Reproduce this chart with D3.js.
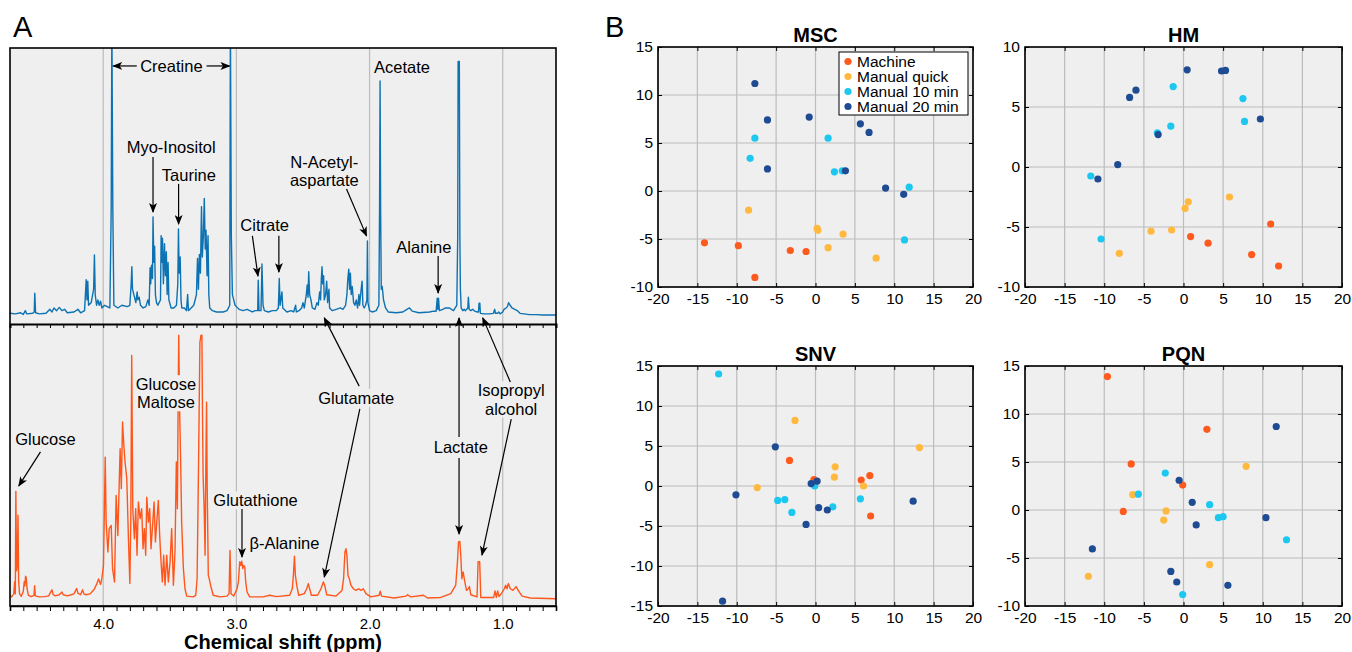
<!DOCTYPE html>
<html>
<head>
<meta charset="utf-8">
<title>NMR spectra and PCA scores</title>
<script src="https://d3js.org/d3.v7.min.js"></script>
<style>
  body { margin: 0; background: #fff; }
  text { font-family: "Liberation Sans", Arial, Helvetica, sans-serif; fill: #000; }
</style>
</head>
<body>
<div id="chart"></div>
<script>

// ---------- data: spectra, digitized as [ppm, relative intensity] ----------
var topTrace = [
  [4.70,1],[4.66,0.8],[4.62,1.2],[4.60,0.6],[4.585,2],[4.575,0.8],[4.53,1],[4.518,1.5],[4.514,8.5],[4.508,1.2],
  [4.48,0.8],[4.43,1],[4.40,2.5],[4.385,1.5],[4.37,3],[4.35,2],[4.33,3.2],[4.31,2],[4.29,2.5],[4.27,1.2],
  [4.22,1.5],[4.19,2.5],[4.17,1.2],[4.14,2],[4.128,13.5],[4.122,6],[4.116,13],[4.11,4],[4.09,5],[4.072,10],
  [4.066,22.8],[4.06,8],[4.05,4],[4.04,6],[4.03,4],[4.02,5.5],[4.01,3],[3.99,4],[3.95,3],[3.94,40],
  [3.935,110],[3.928,40],[3.92,4],[3.89,3],[3.86,4],[3.82,3.5],[3.80,4],[3.79,12],[3.785,18.4],[3.78,10],
  [3.77,8],[3.755,5],[3.745,9],[3.74,6],[3.73,7],[3.72,4],[3.70,3],[3.68,3.5],[3.665,6],[3.655,4],
  [3.648,18],[3.643,12],[3.637,19],[3.63,14],[3.626,37],[3.62,20],[3.614,26],[3.608,8],[3.60,5],[3.59,4],
  [3.57,6],[3.565,30],[3.56,20],[3.555,29],[3.548,12],[3.54,27],[3.533,15],[3.526,24],[3.52,8],[3.513,20],
  [3.507,6],[3.49,3],[3.47,3],[3.45,4],[3.44,12],[3.435,32.5],[3.43,16],[3.422,22],[3.416,6],[3.41,3],
  [3.39,3],[3.375,2],[3.366,8],[3.36,2],[3.34,3],[3.32,4],[3.30,8],[3.292,21.5],[3.285,10],[3.278,23],
  [3.27,16],[3.262,40.8],[3.256,22],[3.248,30],[3.241,43.9],[3.234,25],[3.228,32],[3.22,15],[3.213,30],[3.207,8],
  [3.20,3],[3.18,2],[3.15,1.5],[3.10,1.5],[3.07,2],[3.05,4],[3.045,110],[3.038,30],[3.03,8],[3.02,6],
  [3.01,4],[3.00,3.5],[2.98,2.5],[2.95,2],[2.92,2.5],[2.88,1.5],[2.86,2],[2.84,2],[2.836,13.4],[2.83,2],
  [2.815,2],[2.808,19.4],[2.80,4],[2.79,2],[2.76,1.5],[2.73,2],[2.70,2],[2.685,3],[2.678,14],[2.672,4],
  [2.658,9],[2.652,3],[2.62,1.5],[2.59,2],[2.57,1.5],[2.555,4],[2.55,1.5],[2.53,2],[2.51,3],[2.50,5],
  [2.49,3],[2.475,8],[2.468,11.6],[2.462,7],[2.457,16.5],[2.45,8],[2.44,6],[2.43,3],[2.41,2.5],[2.395,5],
  [2.385,4],[2.375,9],[2.368,6],[2.362,14],[2.357,18.4],[2.352,12],[2.345,15],[2.34,6],[2.33,8],[2.322,13],
  [2.315,5],[2.305,10],[2.30,3],[2.28,2],[2.25,2.5],[2.22,3],[2.20,2.5],[2.18,4],[2.17,8],[2.163,14],
  [2.156,17.5],[2.15,10],[2.144,16],[2.138,8],[2.13,11],[2.12,5],[2.11,4],[2.10,6],[2.09,3],[2.08,8],
  [2.075,4],[2.063,10],[2.056,13],[2.05,4],[2.04,3],[2.03,4],[2.02,6],[2.016,28],[2.012,5],[2.00,2],
  [1.98,1.5],[1.95,2],[1.93,4],[1.925,40],[1.921,87.7],[1.917,40],[1.912,10],[1.905,11],[1.895,6],[1.88,3],
  [1.86,1.5],[1.80,1.2],[1.75,1.5],[1.72,2.5],[1.70,3],[1.68,1.8],[1.63,1.2],[1.55,1.5],[1.52,1.8],[1.50,1.8],
  [1.492,6.6],[1.488,2.5],[1.482,6.6],[1.476,2],[1.45,2.5],[1.43,3],[1.40,3],[1.37,2],[1.345,4],[1.338,30],
  [1.335,95],[1.33,95],[1.326,95],[1.322,30],[1.318,10],[1.312,3],[1.30,2],[1.29,2.5],[1.28,2],[1.262,3],
  [1.258,7],[1.252,2.5],[1.24,2],[1.225,2.5],[1.21,1.8],[1.19,1.5],[1.182,1.5],[1.178,4.8],[1.172,4.8],[1.168,1],
  [1.14,0.8],[1.10,0.8],[1.07,1],[1.06,2.5],[1.055,1],[1.04,1],[1.03,1.5],[1.02,0.8],[1.00,1.5],[0.99,2.5],
  [0.975,3],[0.965,3.5],[0.956,5],[0.945,4],[0.93,3],[0.91,2.5],[0.89,2],[0.87,1],[0.84,0.8],[0.80,0.5],
  [0.75,0.5],[0.70,0.4],[0.65,0.4],[0.60,0.4]
];

var bottomTrace = [
  [4.70,1],[4.688,0.4],[4.672,1.5],[4.665,6],[4.66,1.5],[4.656,39.2],[4.651,10],[4.645,12],[4.64,30.4],[4.635,6],
  [4.628,1.5],[4.615,0.6],[4.60,2.5],[4.593,6],[4.588,4.5],[4.583,8],[4.578,7.4],[4.572,3.5],[4.562,1],[4.54,0.5],
  [4.52,1],[4.515,4.5],[4.51,0.8],[4.48,0.4],[4.44,0.5],[4.41,0.8],[4.385,3],[4.375,1.2],[4.36,0.8],[4.33,1.2],
  [4.31,2.2],[4.30,1.2],[4.27,0.8],[4.24,1.2],[4.22,1.5],[4.20,3.5],[4.19,1.8],[4.17,1.2],[4.155,3],[4.145,1.5],
  [4.13,1.2],[4.10,1.5],[4.07,3],[4.05,5],[4.035,7],[4.02,5],[4.01,7.1],[3.998,12],[3.985,51.8],[3.978,27.9],
  [3.965,16.9],[3.955,25.5],[3.94,26.7],[3.93,10.8],[3.915,5.9],[3.903,37.7],[3.89,23],[3.873,54.9],[3.864,40.2],[3.855,64.7],
  [3.845,56],[3.836,50],[3.823,43.9],[3.81,20.6],[3.80,5.3],[3.793,27.9],[3.786,89.2],[3.778,32.8],[3.766,21.8],[3.756,32.8],
  [3.746,15.7],[3.736,35.3],[3.723,29.2],[3.711,32.8],[3.701,18.1],[3.691,25.5],[3.681,15.7],[3.673,37.1],[3.661,27.9],[3.651,32.8],
  [3.641,18.1],[3.631,25.5],[3.618,35.3],[3.608,20.6],[3.598,27.9],[3.586,35.9],[3.576,23],[3.566,13.3],[3.556,5.9],[3.546,15.7],
  [3.536,4.7],[3.523,15.7],[3.511,5.9],[3.498,13.3],[3.486,25.5],[3.473,4.7],[3.461,16.9],[3.451,50],[3.443,32.8],[3.438,68.4],
  [3.433,96.6],[3.426,68.4],[3.418,48.8],[3.411,27.9],[3.398,10.8],[3.386,3.4],[3.373,0.7],[3.325,0.4],[3.305,1],[3.295,7.1],
  [3.284,50],[3.274,94],[3.266,96.6],[3.259,96.6],[3.254,64.7],[3.25,45],[3.242,32.8],[3.235,15.7],[3.23,45],[3.224,72],
  [3.219,40.2],[3.211,8.3],[3.204,7.1],[3.194,4.7],[3.174,1],[3.124,0.4],[3.07,0.7],[3.055,1.6],[3.048,17.5],[3.04,1.6],
  [3.02,0.7],[2.995,3.4],[2.985,5.9],[2.975,13.3],[2.967,12],[2.96,13.5],[2.952,10.8],[2.945,12],[2.937,11.4],[2.93,5.9],
  [2.92,2.2],[2.90,0.4],[2.80,0.4],[2.75,1],[2.70,0.5],[2.60,1],[2.58,3.4],[2.572,8.3],[2.564,15.4],[2.557,8.3],
  [2.547,4.7],[2.532,1],[2.49,1.6],[2.472,3.4],[2.46,5.3],[2.45,3.4],[2.437,1],[2.39,1],[2.365,3.4],[2.347,5.9],
  [2.337,4.7],[2.322,1.2],[2.252,0.7],[2.207,2.8],[2.195,7.1],[2.185,16.9],[2.177,18.1],[2.17,15.7],[2.162,8.3],[2.152,7.1],
  [2.14,4.7],[2.122,3.4],[2.102,2.8],[2.082,3.4],[2.065,2.8],[2.047,3.4],[2.027,1.6],[1.99,0.4],[1.928,1],[1.92,2.5],
  [1.91,0.7],[1.815,0],[1.727,0.7],[1.715,1.2],[1.69,0.4],[1.595,1],[1.565,0],[1.465,0.2],[1.39,1.6],[1.353,4.7],
  [1.34,13.3],[1.332,20.6],[1.322,20.8],[1.315,15.7],[1.307,7.1],[1.297,9.6],[1.287,6.5],[1.272,2.8],[1.258,3.4],[1.25,4.2],
  [1.24,1.2],[1.193,0.4],[1.185,13.3],[1.173,13.3],[1.165,0.2],[1.068,0.2],[1.058,2.6],[1.048,0.2],[1.038,2.6],[1.028,0.5],
  [1.006,2],[0.988,3.4],[0.978,4.7],[0.968,3.4],[0.958,5.3],[0.943,3.4],[0.923,2.8],[0.90,4.2],[0.88,2.5],[0.855,0.7],
  [0.793,0],[0.60,-0.3]
];

var ppmLabels = [4.0, 3.0, 2.0, 1.0];

// ---------- data: PCA scores, [PC1, PC2] per group ----------
var groups = ["Machine", "Manual quick", "Manual 10 min", "Manual 20 min"];
var groupColors = ["#ff5a1e", "#ffb93f", "#1cc8f0", "#1f4b93"];
var scoreTicksX = [-20, -15, -10, -5, 0, 5, 10, 15, 20];

var mscMachine = [[-14.1,-5.4],[-9.8,-5.7],[-7.7,-9.0],[-3.2,-6.2],[-1.2,-6.3]];
var mscQuick   = [[-8.5,-2.0],[0.2,-3.9],[0.3,-4.1],[1.6,-5.9],[3.5,-4.5],[7.7,-7.0]];
var msc10      = [[-7.7,5.5],[-8.3,3.4],[1.6,5.5],[2.4,2.0],[3.4,2.1],[11.9,0.4],[11.3,-5.1]];
var msc20      = [[-7.7,11.2],[-6.1,7.4],[-6.1,2.3],[-0.8,7.7],[3.8,2.1],[5.7,7.0],[6.8,6.1],[8.9,0.3],[11.2,-0.35]];

var hmMachine = [[0.9,-5.8],[3.1,-6.35],[11.0,-4.75],[8.6,-7.3],[12.0,-8.25]];
var hmQuick   = [[5.8,-2.5],[0.6,-2.9],[0.2,-3.45],[-4.1,-5.35],[-1.5,-5.25],[-8.1,-7.2]];
var hm10      = [[-1.3,6.7],[7.5,5.7],[7.7,3.8],[-1.6,3.4],[-3.3,2.85],[-11.7,-0.75],[-10.4,-6.0]];
var hm20      = [[0.46,8.1],[4.8,8.0],[5.3,8.05],[-6.8,5.8],[-6.0,6.4],[-3.2,2.7],[9.7,4.0],[-8.3,0.2],[-10.8,-1.0]];

var snvMachine = [[-3.3,3.2],[-0.2,0.8],[5.8,0.75],[6.9,1.3],[7.0,-3.75]];
var snvQuick   = [[-2.6,8.2],[-7.4,-0.2],[2.5,2.4],[2.4,1.1],[6.1,0],[13.2,4.8]];
var snv10      = [[-12.3,14.0],[-4.8,-1.8],[-3.9,-1.7],[-3.0,-3.3],[-0.1,0],[2.2,-2.6],[5.7,-1.6]];
var snv20      = [[-5.1,4.9],[-10.1,-1.1],[-0.55,0.3],[0.2,0.6],[0.4,-2.7],[1.5,-3.0],[-1.2,-4.8],[12.4,-1.9],[-11.8,-14.4]];

var pqnMachine = [[-9.6,13.9],[2.95,8.4],[-6.6,4.8],[-0.1,2.6],[-7.6,-0.15]];
var pqnQuick   = [[7.9,4.55],[-6.4,1.6],[-2.2,-0.1],[-2.5,-1.05],[3.3,-5.7],[-12.0,-6.9]];
var pqn10      = [[-2.3,3.85],[-5.7,1.65],[3.3,0.55],[4.4,-0.8],[5.0,-0.7],[13.0,-3.1],[-0.1,-8.8]];
var pqn20      = [[-0.55,3.1],[1.1,0.8],[1.6,-1.55],[11.7,8.7],[10.4,-0.8],[-11.5,-4.05],[-1.6,-6.4],[-0.85,-7.5],[5.6,-7.85]];

// ---------- setup ----------
var width = 1352, height = 652;
var bg = "#efefef", gridColor = "#bcbcbd";

var svg = d3.select("#chart").append("svg")
  .attr("width", width).attr("height", height)
  .style("background", "#fff");

var defs = svg.append("defs");
defs.append("marker")
  .attr("id", "head").attr("markerUnits", "userSpaceOnUse")
  .attr("markerWidth", 10).attr("markerHeight", 8)
  .attr("refX", 9).attr("refY", 4).attr("orient", "auto")
  .append("path").attr("d", "M0,0 L10,4 L0,8 L2.5,4 Z").attr("fill", "#000");

function arrow(g, x1, y1, x2, y2) {
  g.append("line")
    .attr("x1", x1).attr("y1", y1).attr("x2", x2).attr("y2", y2)
    .attr("stroke", "#000").attr("stroke-width", 1.2)
    .attr("marker-end", "url(#head)");
}

// text label with a background patch that hides lines behind it
function label(g, cx, cy, lines, size) {
  var lh = size * 1.1;
  var t = g.append("text")
    .attr("text-anchor", "middle")
    .style("font-size", size + "px");
  lines.forEach(function(s, i) {
    t.append("tspan").attr("x", cx).attr("y", cy + (i - (lines.length - 1) / 2) * lh)
      .attr("dy", "0.35em").text(s);
  });
  var b = t.node().getBBox();
  g.insert("rect", function() { return t.node(); })
    .attr("x", b.x - 1).attr("y", b.y).attr("width", b.width + 2).attr("height", b.height)
    .attr("fill", bg);
}

// ================= Panel A : spectra =================
var x = d3.scaleLinear().domain([4.7, 0.6]).range([10, 556]);
var yTop = d3.scaleLinear().domain([0, 100]).range([316, 48]);
var yBot = d3.scaleLinear().domain([0, 100]).range([598, 326]);

var A = svg.append("g");
A.append("rect").attr("x", 10).attr("y", 48).attr("width", 546).attr("height", 558).attr("fill", bg);

// vertical grid
A.selectAll(".vgrid").data(ppmLabels).enter().append("line")
  .attr("x1", function(d) { return x(d); }).attr("x2", function(d) { return x(d); })
  .attr("y1", 48).attr("y2", 606)
  .attr("stroke", gridColor).attr("stroke-width", 1.2);

defs.append("clipPath").attr("id", "clipTop").append("rect")
  .attr("x", 10).attr("y", 48).attr("width", 546).attr("height", 276);
defs.append("clipPath").attr("id", "clipBot").append("rect")
  .attr("x", 10).attr("y", 324).attr("width", 546).attr("height", 282);

var lineTop = d3.line().x(function(d) { return x(d[0]); }).y(function(d) { return yTop(d[1]); });
var lineBot = d3.line().x(function(d) { return x(d[0]); }).y(function(d) { return yBot(d[1]); });

A.append("path").datum(topTrace).attr("d", lineTop)
  .attr("clip-path", "url(#clipTop)")
  .attr("fill", "none").attr("stroke", "#0d72b2").attr("stroke-width", 1.4)
  .attr("stroke-linejoin", "round");
A.append("path").datum(bottomTrace).attr("d", lineBot)
  .attr("clip-path", "url(#clipBot)")
  .attr("fill", "none").attr("stroke", "#ff561c").attr("stroke-width", 1.4)
  .attr("stroke-linejoin", "round");

// frame, divider and axes
var minorPpm = d3.range(6, 48).map(function(d) { return d / 10; });
A.append("rect").attr("x", 10).attr("y", 48).attr("width", 546).attr("height", 558)
  .attr("fill", "none").attr("stroke", "#000").attr("stroke-width", 1.6);

var divider = A.append("g").attr("transform", "translate(0,324)")
  .call(d3.axisBottom(x).tickValues(minorPpm).tickSize(4).tickFormat(""));
divider.select(".domain").attr("stroke-width", 2);

var xAxisA = A.append("g").attr("transform", "translate(0,606)")
  .call(d3.axisBottom(x).tickValues(minorPpm).tickSize(5).tickPadding(7)
    .tickFormat(function(d) { return ppmLabels.indexOf(d) >= 0 ? d.toFixed(1) : ""; }));
xAxisA.select(".domain").attr("stroke-width", 1.6);
xAxisA.selectAll("text").style("font-size", "15px")
  .style("font-family", "'Liberation Sans', Arial, sans-serif");

A.append("text").attr("x", 283).attr("y", 649).attr("text-anchor", "middle")
  .style("font-size", "20px").style("font-weight", "bold").text("Chemical shift (ppm)");
svg.append("text").attr("x", 13).attr("y", 37).style("font-size", "29px").text("A");

// annotations, top spectrum
var LS = 16.5;
label(A, x(3.488), yTop(93.3), ["Creatine"], LS);
arrow(A, x(3.748), yTop(93.3), x(3.925), yTop(93.3));
arrow(A, x(3.224), yTop(93.3), x(3.052), yTop(93.3));
label(A, x(3.49), yTop(63), ["Myo-Inositol"], LS);
arrow(A, x(3.626), yTop(59.3), x(3.626), yTop(38.8));
label(A, x(3.357), yTop(52.6), ["Taurine"], LS);
arrow(A, x(3.434), yTop(49.3), x(3.434), yTop(34.3));
label(A, x(2.788), yTop(34), ["Citrate"], LS);
arrow(A, x(2.880), yTop(29.9), x(2.838), yTop(14.9));
arrow(A, x(2.681), yTop(29.9), x(2.681), yTop(16.4));
label(A, x(2.34), yTop(54.1), ["N-Acetyl-", "aspartate"], LS);
arrow(A, x(2.173), yTop(47.4), x(2.023), yTop(29.9));
label(A, x(1.756), yTop(92.9), ["Acetate"], LS);
label(A, x(1.592), yTop(25.7), ["Alanine"], LS);
arrow(A, x(1.485), yTop(22.4), x(1.485), yTop(8.6));

// annotations, bottom spectrum
label(A, x(4.434), yBot(58.3), ["Glucose"], LS);
arrow(A, x(4.471), yBot(53.7), x(4.634), yBot(41.2));
label(A, x(3.529), yBot(75.2), ["Glucose", "Maltose"], LS);
label(A, x(2.856), yBot(35.8), ["Glutathione"], LS);
arrow(A, x(2.958), yBot(32.7), x(2.958), yBot(15.1));
label(A, x(2.639), yBot(20.2), ["\u03b2-Alanine"], LS);
label(A, x(2.10), yBot(73.5), ["Glutamate"], LS);
arrow(A, x(2.078), yBot(77.9), x(2.34), yTop(-0.7));
arrow(A, x(2.073), yBot(69.5), x(2.34), yBot(7.7));
label(A, x(1.315), yBot(55.5), ["Lactate"], LS);
arrow(A, x(1.328), yBot(59.2), x(1.328), yTop(-0.7));
arrow(A, x(1.328), yBot(51.5), x(1.328), yBot(23.5));
label(A, x(0.937), yBot(72.9), ["Isopropyl", "alcohol"], LS);
arrow(A, x(0.943), yBot(79.4), x(1.15), yTop(-0.7));
arrow(A, x(0.936), yBot(65.8), x(1.156), yBot(15.8));

// ================= Panel B : score plots =================
svg.append("text").attr("x", 605).attr("y", 37).style("font-size", "29px").text("B");

function scorePanel(p) {
  var sx = d3.scaleLinear().domain([-20, 20]).range([p.left, p.right]);
  var sy = d3.scaleLinear().domain(p.yDomain).range([p.bottom, p.top]);
  var yTicks = d3.range(p.yDomain[0], p.yDomain[1] + 1, 5);
  var g = svg.append("g");

  g.append("rect").attr("x", p.left).attr("y", p.top)
    .attr("width", p.right - p.left).attr("height", p.bottom - p.top).attr("fill", bg);

  g.selectAll(".gx").data(scoreTicksX).enter().append("line")
    .attr("x1", function(d) { return sx(d); }).attr("x2", function(d) { return sx(d); })
    .attr("y1", p.top).attr("y2", p.bottom).attr("stroke", gridColor).attr("stroke-width", 1.2);
  g.selectAll(".gy").data(yTicks).enter().append("line")
    .attr("x1", p.left).attr("x2", p.right)
    .attr("y1", function(d) { return sy(d); }).attr("y2", function(d) { return sy(d); })
    .attr("stroke", gridColor).attr("stroke-width", 1.2);

  // points, drawn group by group
  p.sets.forEach(function(set, i) {
    g.selectAll(".pt" + i).data(set).enter().append("circle")
      .attr("cx", function(d) { return sx(d[0]); })
      .attr("cy", function(d) { return sy(d[1]); })
      .attr("r", 3.6).attr("fill", groupColors[i]);
  });

  // axes with inward ticks on all sides
  var fmt = function(d) { return String(d); };
  var ax = [
    g.append("g").attr("transform", "translate(0," + p.bottom + ")")
      .call(d3.axisBottom(sx).tickValues(scoreTicksX).tickSizeInner(-4).tickSizeOuter(0).tickPadding(6).tickFormat(fmt)),
    g.append("g").attr("transform", "translate(0," + p.top + ")")
      .call(d3.axisTop(sx).tickValues(scoreTicksX).tickSizeInner(-4).tickSizeOuter(0).tickFormat("")),
    g.append("g").attr("transform", "translate(" + p.left + ",0)")
      .call(d3.axisLeft(sy).tickValues(yTicks).tickSizeInner(-4).tickSizeOuter(0).tickPadding(5).tickFormat(fmt)),
    g.append("g").attr("transform", "translate(" + p.right + ",0)")
      .call(d3.axisRight(sy).tickValues(yTicks).tickSizeInner(-4).tickSizeOuter(0).tickFormat(""))
  ];
  ax.forEach(function(a) {
    a.select(".domain").remove();
    a.selectAll("text").style("font-size", "15.5px")
      .style("font-family", "'Liberation Sans', Arial, sans-serif");
  });
  g.append("rect").attr("x", p.left).attr("y", p.top)
    .attr("width", p.right - p.left).attr("height", p.bottom - p.top)
    .attr("fill", "none").attr("stroke", "#000").attr("stroke-width", 1.6);

  g.append("text").attr("x", (p.left + p.right) / 2).attr("y", p.top - 5)
    .attr("text-anchor", "middle").style("font-size", "20px").style("font-weight", "bold")
    .text(p.title);

  if (p.legend) {
    var lx = p.right - 134, ly = p.top + 5;
    g.append("rect").attr("x", lx).attr("y", ly).attr("width", 129).attr("height", 63)
      .attr("fill", "#fff").attr("stroke", "#000").attr("stroke-width", 1);
    groups.forEach(function(name, i) {
      g.append("circle").attr("cx", lx + 9).attr("cy", ly + 9.5 + i * 15)
        .attr("r", 3.6).attr("fill", groupColors[i]);
      g.append("text").attr("x", lx + 18).attr("y", ly + 9.5 + i * 15).attr("dy", "0.35em")
        .style("font-size", "15.5px").text(name);
    });
  }
}

scorePanel({ title: "MSC", left: 658, right: 973, top: 47, bottom: 287, yDomain: [-10, 15],
  sets: [mscMachine, mscQuick, msc10, msc20], legend: true });
scorePanel({ title: "HM", left: 1025, right: 1342, top: 47, bottom: 287, yDomain: [-10, 10],
  sets: [hmMachine, hmQuick, hm10, hm20] });
scorePanel({ title: "SNV", left: 658, right: 973, top: 366, bottom: 606, yDomain: [-15, 15],
  sets: [snvMachine, snvQuick, snv10, snv20] });
scorePanel({ title: "PQN", left: 1025, right: 1342, top: 366, bottom: 606, yDomain: [-10, 15],
  sets: [pqnMachine, pqnQuick, pqn10, pqn20] });

</script>
</body>
</html>
